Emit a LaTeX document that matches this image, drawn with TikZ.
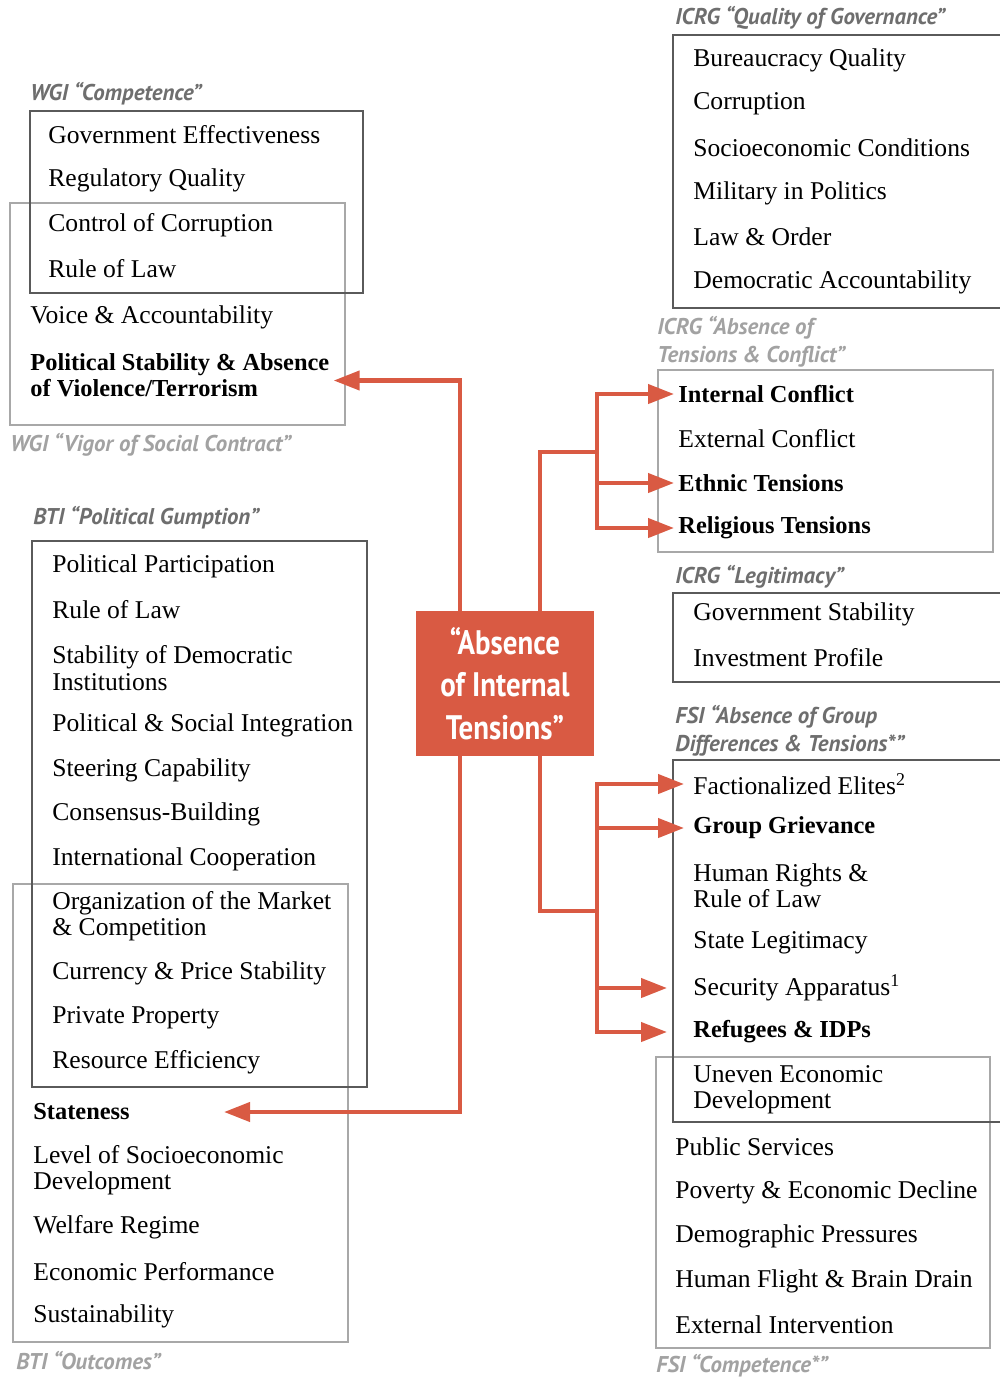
\documentclass[tikz,border=0pt]{standalone}
\usepackage{fontspec}
\setmainfont{Liberation Serif}
\newfontfamily\lblfont{PT Sans}
\newfontfamily\ctrfont{PT Sans}[FakeStretch=0.85]
\usetikzlibrary{arrows.meta,positioning}

\definecolor{tension}{HTML}{D95A43}
\definecolor{boxdark}{HTML}{5A5A5A}
\definecolor{boxlight}{HTML}{A8A8A8}
\definecolor{lbldark}{HTML}{6E6E6E}
\definecolor{lbllight}{HTML}{A2A2A2}

\tikzset{
  item/.style = {anchor = west, inner sep = 1pt, align = left, font = \fontsize{12.8}{13.2}\selectfont},
  itembf/.style = {item, font = \fontsize{12.2}{13.2}\selectfont\bfseries},
  lbl/.style = {anchor = west, inner sep = 0pt, align = left, text = lbldark, font = \lblfont\fontsize{11.4}{14}\selectfont\bfseries\itshape},
  lbllt/.style = {lbl, text = lbllight},
  darkbox/.style = {draw = boxdark, line width = 1.3pt},
  lightbox/.style = {draw = boxlight, line width = 1.3pt},
  link/.style = {draw = tension, line width = 2.1pt},
  arr/.style = {link, -{Triangle[length = 13pt, width = 9.5pt]}}
}

\begin{document}
\begin{tikzpicture}[x = 0.5pt, y = -0.5pt]
\useasboundingbox (0,0) rectangle (1000,1378);

% boxes
\draw[lightbox] (10,203) rectangle (345,425);
\draw[darkbox] (30,111) rectangle (363,293);
\draw[darkbox] (673,35) rectangle (1010,308);
\draw[lightbox] (658,370) rectangle (993,552);
\draw[darkbox] (673,593) rectangle (1010,682);
\draw[lightbox] (656,1057) rectangle (990,1348);
\draw[darkbox] (673,760) rectangle (1010,1122);
\draw[lightbox] (13,884) rectangle (348,1342);
\draw[darkbox] (32,541) rectangle (367,1087);

% WGI
\node[lbl] (wgicomp) at (30,94) {WGI “Competence”};
\node[item] (goveff) at (46,135) {Government Effectiveness};
\node[item] (regq) at (46,180) {Regulatory Quality};
\node[item] (ctrlcorr) at (46,225) {Control of Corruption};
\node[item] (rolwgi) at (46,269) {Rule of Law};
\node[item] (voice) at (28,317) {Voice \& Accountability};
\node[itembf] (polstab) at (28,375) {Political Stability \& Absence\\of Violence/Terrorism};
\node[lbllt] (wgivigor) at (10,445) {WGI “Vigor of Social Contract”};

% ICRG
\node[lbl] (icrgqog) at (675,18) {ICRG “Quality of Governance”};
\node[item] (bureau) at (691,60) {Bureaucracy Quality};
\node[item] (corr) at (691,104) {Corruption};
\node[item] (socio) at (691,148) {Socioeconomic Conditions};
\node[item] (military) at (691,193) {Military in Politics};
\node[item] (laword) at (691,237) {Law \& Order};
\node[item] (democ) at (691,282) {Democratic Accountability};
\node[lbllt] (icrgtens) at (657,342) {ICRG “Absence of\\Tensions \& Conflict”};
\node[itembf] (intconf) at (676,394) {Internal Conflict};
\node[item] (extconf) at (676,439) {External Conflict};
\node[itembf] (ethnic) at (676,483) {Ethnic Tensions};
\node[itembf] (relig) at (676,528) {Religious Tensions};
\node[lbl] (icrglegit) at (675,577) {ICRG “Legitimacy”};
\node[item] (govstab) at (691,614) {Government Stability};
\node[item] (invest) at (691,658) {Investment Profile};

% FSI
\node[lbl] (fsigroup) at (675,731) {FSI “Absence of Group\\Differences \& Tensions*”};
\node[item] (facelite) at (691,784) {Factionalized Elites\textsuperscript{2}};
\node[itembf] (grievance) at (691,828) {Group Grievance};
\node[item] (humrights) at (691,886) {Human Rights \&\\Rule of Law};
\node[item] (statelegit) at (691,943) {State Legitimacy};
\node[item] (security) at (691,988) {Security Apparatus\textsuperscript{1}};
\node[itembf] (refugees) at (691,1032) {Refugees \& IDPs};
\node[item] (uneven) at (691,1090) {Uneven Economic\\Development};
\node[item] (pubserv) at (673,1147) {Public Services};
\node[item] (poverty) at (673,1192) {Poverty \& Economic Decline};
\node[item] (demog) at (673,1236) {Demographic Pressures};
\node[item] (flight) at (673,1281) {Human Flight \& Brain Drain};
\node[item] (extint) at (673,1325) {External Intervention};
\node[lbllt] (fsicomp) at (656,1366) {FSI “Competence*”};

% BTI
\node[lbl] (btigump) at (33,518) {BTI “Political Gumption”};
\node[item] (polpart) at (50,566) {Political Participation};
\node[item] (rolbti) at (50,610) {Rule of Law};
\node[item] (stabdem) at (50,668) {Stability of Democratic\\Institutions};
\node[item] (polsoc) at (50,725) {Political \& Social Integration};
\node[item] (steering) at (50,770) {Steering Capability};
\node[item] (consensus) at (50,814) {Consensus-Building};
\node[item] (intcoop) at (50,859) {International Cooperation};
\node[item] (market) at (50,916) {Organization of the Market\\\& Competition};
\node[item] (currency) at (50,973) {Currency \& Price Stability};
\node[item] (property) at (50,1018) {Private Property};
\node[item] (resource) at (50,1062) {Resource Efficiency};
\node[itembf] (stateness) at (31,1112) {Stateness};
\node[item] (socioec) at (31,1170) {Level of Socioeconomic\\Development};
\node[item] (welfare) at (31,1227) {Welfare Regime};
\node[item] (econperf) at (31,1272) {Economic Performance};
\node[item] (sustain) at (31,1316) {Sustainability};
\node[lbllt] (btiout) at (16,1361) {BTI “Outcomes”};

% center
\node[fill = tension, minimum width = 89pt, minimum height = 72.5pt, inner sep = 0pt, text = white, align = center,
  font = \ctrfont\fontsize{17}{21.3}\selectfont\bfseries] (absence) at (505,683.5) {“Absence\\of Internal\\Tensions”};

% links
\coordinate (jtop) at (597,452);
\coordinate (jbot) at (597,911);
\draw[arr] ([xshift = -22.5pt]absence.north) |- ([xshift = 1pt, yshift = -2.75pt]polstab.east);
\draw[link] ([xshift = 17.5pt]absence.north) |- (jtop);
\draw[arr] (jtop) |- ([xshift = -1pt]intconf.west);
\draw[arr] (jtop) |- ([xshift = -1pt]ethnic.west);
\draw[arr] (jtop) |- ([xshift = -1pt]relig.west);
\draw[arr] ([xshift = -22.5pt]absence.south) |- ([xshift = 46pt]stateness.east);
\draw[link] ([xshift = 17.5pt]absence.south) |- (jbot);
\draw[arr] (jbot) |- ([xshift = -3.5pt]facelite.west);
\draw[arr] (jbot) |- ([xshift = -3.5pt]grievance.west);
\draw[arr] (jbot) |- ([xshift = -12pt]security.west);
\draw[arr] (jbot) |- ([xshift = -12pt]refugees.west);
\end{tikzpicture}
\end{document}
